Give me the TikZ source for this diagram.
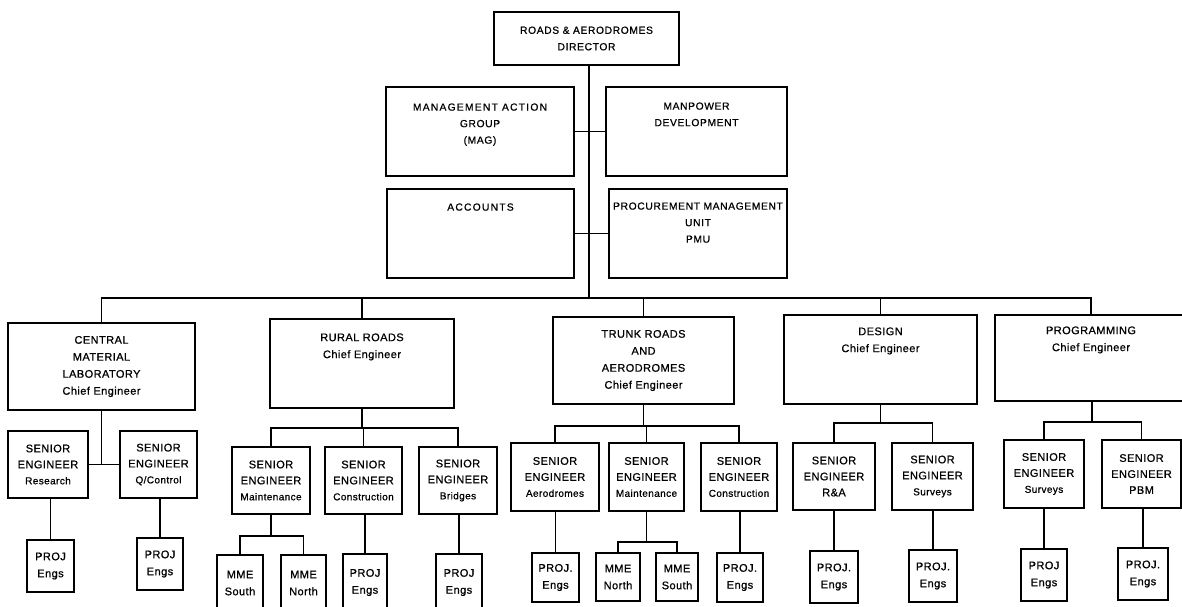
\documentclass[tikz,border=0pt]{standalone}
\usepackage{fontspec}
\setmainfont{Liberation Sans}[LetterSpace=4,FakeBold=0.8]
\newcommand\orgbox[7][]{%
  \node[box,#1,minimum width={#5-#3},minimum height={#6-#4}] (#2) at ({(#3+#5)/2},{(#4+#6)/2}) {#7};}
\tikzset{
  box/.style={draw, line width=1.5pt, inner sep=1pt, align=center,
    font=\fontsize{11}{16}\selectfont},
  topf/.style={font=\fontsize{10.3}{16.5}\selectfont\addfontfeature{LetterSpace=6}},
  lvtwo/.style={font=\fontsize{11}{17}\selectfont},
  projf/.style={font=\fontsize{11}{17}\selectfont},
  txt/.style={inner sep=0pt, align=center},
  wire/.style={line width=1.5pt},
}
\newcommand\sm[1]{{\fontsize{10}{16}\selectfont #1}}
\begin{document}
\begin{tikzpicture}[x=1pt,y=-1pt]
\useasboundingbox (0,0) rectangle (1182,607);
% ---------- top ----------
\orgbox[topf]{dir}{494}{12}{679}{65}{ROADS \& AERODROMES\\DIRECTOR}
\orgbox{mag}{386}{87}{574}{176}{}
\orgbox{mp}{606}{87}{787}{176}{}
\orgbox{acc}{387}{189}{574}{278}{}
\orgbox{pmu}{609}{189}{787}{278}{}
\node[txt,topf,anchor=north] (magT) at ([yshift=-17pt]mag.north) {\addfontfeature{LetterSpace=12}MANAGEMENT ACTION\\GROUP\\(MAG)};
\node[txt,topf,anchor=north] (mpT) at ([yshift=-16pt]mp.north) {MANPOWER\\DEVELOPMENT};
\node[txt,topf,anchor=north] (accT) at ([yshift=-15pt]acc.north) {\addfontfeature{LetterSpace=12}ACCOUNTS};
\node[txt,topf,anchor=north] (pmuT) at ([yshift=-14pt]pmu.north) {PROCUREMENT MANAGEMENT\\UNIT\\PMU};
\coordinate (tb) at (589,298);
\draw[wire] (dir.south -| tb) -- (tb);
\draw[wire] (mag.east) -- (mp.west);
\draw[wire] (acc.east) -- (pmu.west);
% ---------- level 2 ----------
\orgbox[lvtwo]{cml}{8}{323}{195}{410}{CENTRAL\\MATERIAL\\LABORATORY\\Chief Engineer}
\orgbox{rr}{270}{319}{454}{408}{}
\orgbox[lvtwo]{tr}{553}{317}{734}{404}{TRUNK ROADS\\AND\\AERODROMES\\Chief Engineer}
\orgbox{des}{784}{315}{977}{404}{}
\orgbox{prog}{995}{315}{1187}{401}{}
\node[txt,lvtwo,anchor=north] (rrT) at ([yshift=-15pt]rr.north) {RURAL ROADS\\Chief Engineer};
\node[txt,lvtwo,anchor=north] (desT) at ([yshift=-13pt]des.north) {DESIGN\\Chief Engineer};
\node[txt,lvtwo,anchor=north] (progT) at ([yshift=-12pt]prog.north) {PROGRAMMING\\Chief Engineer};
\draw[wire] (cml.north) -- (cml.north |- tb) -- (prog.north |- tb) -- (prog.north);
\draw[wire] (rr.north) -- (rr.north |- tb);
\draw[wire] (tr.north) -- (tr.north |- tb);
\draw[wire] (des.north) -- (des.north |- tb);
% ---------- CML branch ----------
\orgbox{res}{8}{431}{88}{498}{SENIOR\\ENGINEER\\\sm{Research}}
\orgbox{qc}{120}{431}{197}{498}{SENIOR\\ENGINEER\\\sm{Q/Control}}
\draw[wire] (cml.south) -- (cml.south |- res.east);
\draw[wire] (res.east) -- (qc.west);
\orgbox[projf]{resP}{27}{540}{74}{592}{PROJ\\Engs}
\orgbox[projf]{qcP}{137}{538}{183}{590}{PROJ\\Engs}
\draw[wire] (resP.north) -- (resP.north |- res.south);
\draw[wire] (qcP.north) -- (qcP.north |- qc.south);
% ---------- Rural roads branch ----------
\orgbox{rm}{232}{447}{310}{514}{SENIOR\\ENGINEER\\\sm{Maintenance}}
\orgbox{rc}{325}{447}{402}{514}{SENIOR\\ENGINEER\\\sm{Construction}}
\orgbox{rb}{419}{447}{497}{514}{SENIOR\\ENGINEER\\\sm{Bridges}}
\coordinate (rbus) at (0,428);
\draw[wire] (rr.south) -- (rr.south |- rbus);
\draw[wire] (rm.north) -- (rm.north |- rbus) -- (rb.north |- rbus) -- (rb.north);
\draw[wire] (rc.north) -- (rc.north |- rbus);
\orgbox[projf]{rms}{217}{555}{263}{611}{MME\\South}
\orgbox[projf]{rmn}{281}{555}{326}{611}{MME\\North}
\coordinate (rmbus) at (0,536);
\draw[wire] (rm.south) -- (rm.south |- rmbus);
\draw[wire] (rms.north) -- (rms.north |- rmbus) -- (rmn.north |- rmbus) -- (rmn.north);
\orgbox[projf]{rcP}{343}{554}{387}{611}{PROJ\\Engs}
\orgbox[projf]{rbP}{436}{554}{482}{611}{PROJ\\Engs}
\draw[wire] (rcP.north) -- (rcP.north |- rc.south);
\draw[wire] (rbP.north) -- (rbP.north |- rb.south);
% ---------- Trunk roads branch ----------
\orgbox{ta}{511}{443}{599}{511}{SENIOR\\ENGINEER\\\sm{Aerodromes}}
\orgbox{tm}{609}{443}{684}{511}{SENIOR\\ENGINEER\\\sm{Maintenance}}
\orgbox{tc}{701}{443}{777}{511}{SENIOR\\ENGINEER\\\sm{Construction}}
\coordinate (tbus) at (0,426);
\draw[wire] (tr.south) -- (tr.south |- tbus);
\draw[wire] (ta.north) -- (ta.north |- tbus) -- (tc.north |- tbus) -- (tc.north);
\draw[wire] (tm.north) -- (tm.north |- tbus);
\orgbox[projf]{taP}{532}{553}{579}{602}{PROJ.\\Engs}
\orgbox[projf]{tmn}{596}{553}{640}{601}{MME\\North}
\orgbox[projf]{tms}{656}{553}{698}{601}{MME\\South}
\orgbox[projf]{tcP}{717}{553}{763}{602}{PROJ.\\Engs}
\coordinate (tmbus) at (0,542);
\draw[wire] (tm.south) -- (tm.south |- tmbus);
\draw[wire] (tmn.north) -- (tmn.north |- tmbus) -- (tms.north |- tmbus) -- (tms.north);
\draw[wire] (taP.north) -- (taP.north |- ta.south);
\draw[wire] (tcP.north) -- (tcP.north |- tc.south);
% ---------- Design branch ----------
\orgbox{dra}{793}{443}{875}{510}{SENIOR\\ENGINEER\\R\&A}
\orgbox{dsu}{892}{443}{973}{510}{SENIOR\\ENGINEER\\\sm{Surveys}}
\coordinate (dbus) at (0,423);
\draw[wire] (des.south) -- (des.south |- dbus);
\draw[wire] (dra.north) -- (dra.north |- dbus) -- (dsu.north |- dbus) -- (dsu.north);
\orgbox[projf]{draP}{810}{551}{858}{603}{PROJ.\\Engs}
\orgbox[projf]{dsuP}{909}{550}{957}{602}{PROJ.\\Engs}
\draw[wire] (draP.north) -- (draP.north |- dra.south);
\draw[wire] (dsuP.north) -- (dsuP.north |- dsu.south);
% ---------- Programming branch ----------
\orgbox{psu}{1004}{440}{1084}{508}{SENIOR\\ENGINEER\\\sm{Surveys}}
\orgbox{pbm}{1102}{440}{1181}{508}{SENIOR\\ENGINEER\\PBM}
\coordinate (pbus) at (1092,422);
\draw[wire] (prog.south -| pbus) -- (pbus);
\draw[wire] (psu.north) -- (psu.north |- pbus) -- (pbm.north |- pbus) -- (pbm.north);
\orgbox[projf]{psuP}{1021}{549}{1067}{601}{PROJ\\Engs}
\orgbox[projf]{pbmP}{1118}{548}{1168}{600}{PROJ.\\Engs}
\draw[wire] (psuP.north) -- (psuP.north |- psu.south);
\draw[wire] (pbmP.north) -- (pbmP.north |- pbm.south);
\end{tikzpicture}
\end{document}
